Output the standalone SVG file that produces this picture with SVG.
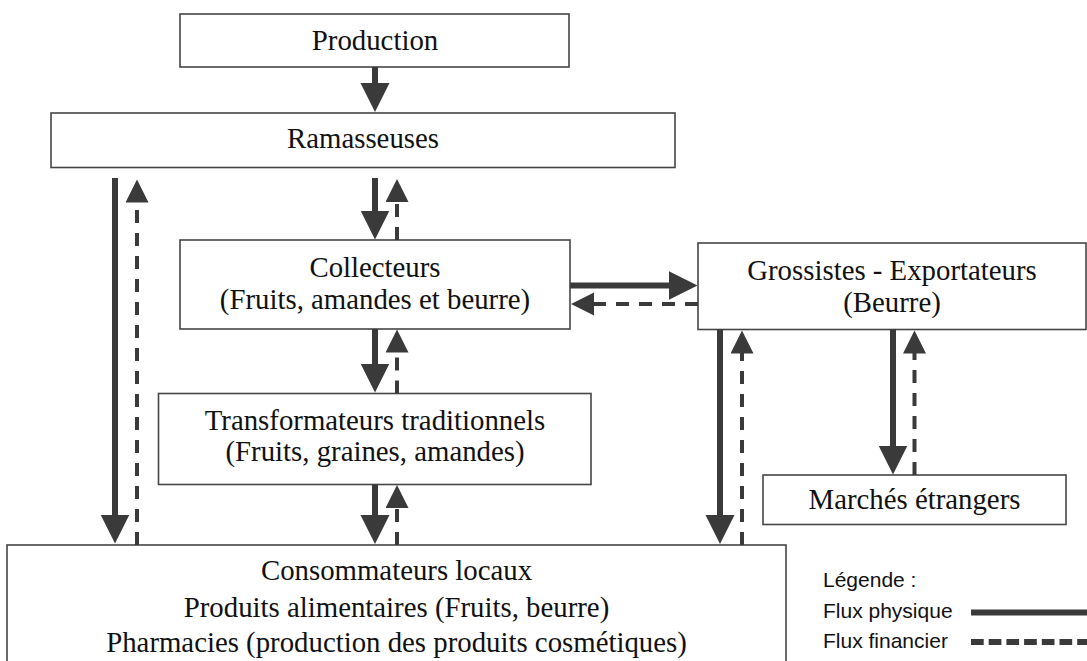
<svg xmlns="http://www.w3.org/2000/svg" width="1087" height="661" viewBox="0 0 1087 661">
<style>
.box{fill:#fff;stroke:#454545;stroke-width:1.6}
.t{font-family:"Liberation Serif","Times New Roman",serif;font-size:28.8px;fill:#111;text-anchor:middle}
.lg{font-family:"Liberation Sans",Arial,sans-serif;font-size:21px;fill:#111}
.phys{stroke:#3a3a3a;stroke-width:6;fill:none;marker-end:url(#hs)}
.fin{stroke:#3a3a3a;stroke-width:4;fill:none;stroke-dasharray:13 10;marker-end:url(#hd)}
</style>
<defs>
<marker id="hs" markerUnits="userSpaceOnUse" markerWidth="30" markerHeight="30" refX="0.5" refY="14.5" orient="auto" viewBox="0 0 30 30">
<path d="M0,0 L29,14.5 L0,29 z" fill="#3a3a3a"/>
</marker>
<marker id="hd" markerUnits="userSpaceOnUse" markerWidth="24" markerHeight="24" refX="0.5" refY="11.5" orient="auto" viewBox="0 0 24 24">
<path d="M0,0 L23,11.5 L0,23 z" fill="#3a3a3a"/>
</marker>
</defs>
<g id="production"><rect class="box" x="180" y="14" width="389" height="53"/><text class="t" x="375" y="50">Production</text></g>
<g id="ramasseuses"><rect class="box" x="51" y="113" width="624" height="54.5"/><text class="t" x="363" y="148">Ramasseuses</text></g>
<g id="collecteurs"><rect class="box" x="180" y="240" width="390" height="89"/><text class="t" x="375" y="277">Collecteurs</text><text class="t" x="375" y="308.5">(Fruits, amandes et beurre)</text></g>
<g id="transformateurs"><rect class="box" x="158.5" y="393.5" width="432.5" height="91"/><text class="t" x="375" y="429.5">Transformateurs traditionnels</text><text class="t" x="375" y="460.5">(Fruits, graines, amandes)</text></g>
<g id="grossistes"><rect class="box" x="698" y="243" width="388" height="86.5"/><text class="t" x="892" y="279.5">Grossistes - Exportateurs</text><text class="t" x="892" y="311.5">(Beurre)</text></g>
<g id="marches"><rect class="box" x="763" y="475" width="303" height="49.5"/><text class="t" x="914.5" y="508.5">Marchés étrangers</text></g>
<g id="consommateurs"><rect class="box" x="7" y="545" width="779" height="130"/><text class="t" x="396.5" y="580">Consommateurs locaux</text><text class="t" x="396.5" y="616.5">Produits alimentaires (Fruits, beurre)</text><text class="t" x="396.5" y="652">Pharmacies (production des produits cosmétiques)</text></g>
<g id="connectors">
<line class="phys" x1="375" y1="67" x2="375" y2="83.5"/>
<line class="phys" x1="375" y1="178" x2="375" y2="211"/>
<line class="fin" x1="397" y1="240" x2="397" y2="201.5"/>
<line class="phys" x1="115" y1="178" x2="115" y2="515"/>
<line class="fin" x1="137" y1="545" x2="137" y2="202"/>
<line class="phys" x1="375" y1="329" x2="375" y2="364"/>
<line class="fin" x1="397" y1="393.5" x2="397" y2="352"/>
<line class="phys" x1="375" y1="484.5" x2="375" y2="515.5"/>
<line class="fin" x1="397" y1="545" x2="397" y2="507.5"/>
<line class="phys" x1="570" y1="285.5" x2="669" y2="285.5"/>
<line class="fin" x1="698" y1="304" x2="593.5" y2="304"/>
<line class="phys" x1="720" y1="329.5" x2="720" y2="515.5"/>
<line class="fin" x1="742" y1="545" x2="742" y2="353"/>
<line class="phys" x1="893" y1="329.5" x2="893" y2="446"/>
<line class="fin" x1="914.5" y1="475" x2="914.5" y2="353"/>
</g>
<g id="legend">
<text class="lg" x="823" y="587">Légende :</text>
<text class="lg" x="823" y="618">Flux physique</text>
<text class="lg" x="823" y="648">Flux financier</text>
<line x1="971" y1="612.5" x2="1087" y2="612.5" stroke="#3a3a3a" stroke-width="6"/>
<line x1="971" y1="642" x2="1087" y2="642" stroke="#3a3a3a" stroke-width="6" stroke-dasharray="12.7 5"/>
</g>
</svg>
